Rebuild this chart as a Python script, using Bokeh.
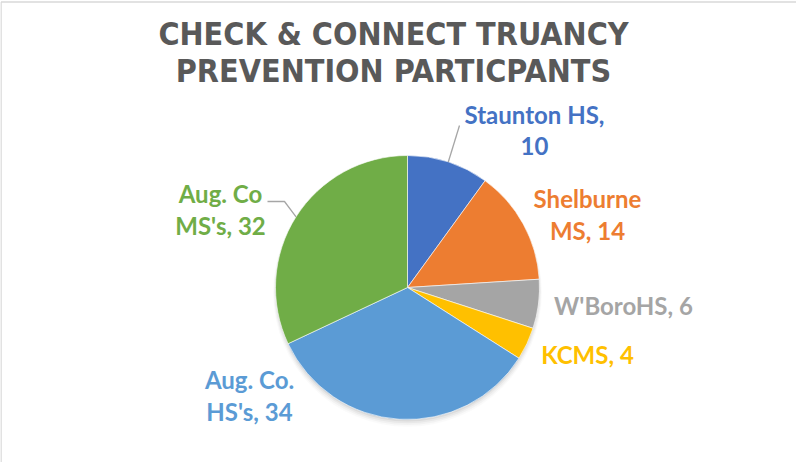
import math
from bokeh.plotting import figure
from bokeh.models import Range1d
from bokeh.core.properties import value
from bokeh.embed import file_html
from bokeh.resources import INLINE

# ---- data ----
title_lines = ["CHECK & CONNECT TRUANCY", "PREVENTION PARTICPANTS"]
schools = ["Staunton HS", "Shelburne MS", "W'BoroHS", "KCMS", "Aug. Co. HS's", "Aug. Co MS's"]
participants = [10, 14, 6, 4, 34, 32]
colors = ["#4472C4", "#ED7D31", "#A5A5A5", "#FFC000", "#5B9BD5", "#70AD47"]

# ---- layout (page pixel coordinates) ----
W, H = 796, 462
PAGE_OFF = 8
CX, CY, R = 415, 295, 132
TITLE_SIZE, LABEL_SIZE = 32, 24
wrap_words = [2, 1, 0, 0, 2, 2]           # words on first label line (0 = single line)
label_pos = [(542, 132), (595, 216), (631, 323), (595, 372), (257, 397), (228, 211)]
LINE_GAP = 32
leader_end = {0: [(467, 133)], 5: [(292, 209), (275, 209)]}


def dy(page_y):
    return PAGE_OFF + H - page_y


p = figure(width=W, height=H, output_backend="svg", toolbar_location=None,
           x_range=Range1d(PAGE_OFF, PAGE_OFF + W), y_range=Range1d(0, H),
           min_border=0, x_axis_type=None, y_axis_type=None)
p.grid.visible = False
p.outline_line_color = None
p.background_fill_color = "white"
p.border_fill_color = "white"

# chart border (top and left visible)
p.line([PAGE_OFF + 0.5, PAGE_OFF + W], [dy(9.5), dy(9.5)], line_color="#D9D9D9", line_width=1.5)
p.line([PAGE_OFF + 0.5, PAGE_OFF + 0.5], [dy(9.5), 0], line_color="#D9D9D9", line_width=1.5)

# title
tfix = 0.42 * TITLE_SIZE
for t, yb in zip(title_lines, [55, 92]):
    p.text(x=[401], y=[dy(yb - tfix)], text=[t], text_font=value("DejaVu Sans Condensed"),
           text_font_style="bold", text_font_size=f"{TITLE_SIZE}px", text_color="#595959",
           text_align="center", text_baseline="alphabetic")

# soft shadow
for k, a in enumerate([0.05, 0.04, 0.03, 0.02]):
    p.circle(x=[CX], y=[dy(CY + 2 + k)], radius=R + k * 0.8, fill_color="black",
             fill_alpha=a, line_color=None)

# wedges
total = sum(participants)
starts, ends = [], []
ang = math.pi / 2
for v in participants:
    starts.append(ang)
    ang -= 2 * math.pi * v / total
    ends.append(ang)
p.wedge(x=CX, y=dy(CY), radius=R, start_angle=starts, end_angle=ends, direction="clock",
        fill_color=colors, line_color="white", line_width=0.6)

# leader lines
for i, pts in leader_end.items():
    mid = (starts[i] + ends[i]) / 2
    ex = CX + R * math.cos(mid)
    ey = CY - R * math.sin(mid)
    xs = [ex] + [q[0] for q in pts]
    ys = [dy(ey)] + [dy(q[1]) for q in pts]
    p.line(xs, ys, line_color="#A6A6A6", line_width=1.3)

# labels
lfix = 0.42 * LABEL_SIZE
for i, (name, v) in enumerate(zip(schools, participants)):
    words = f"{name}, {v}".split(" ")
    if wrap_words[i]:
        lines = [" ".join(words[:wrap_words[i]]), " ".join(words[wrap_words[i]:])]
    else:
        lines = [" ".join(words)]
    lx, ly = label_pos[i]
    for j, ln in enumerate(lines):
        p.text(x=[lx], y=[dy(ly + j * LINE_GAP - lfix)], text=[ln], text_font=value("Lato"),
               text_font_style="bold", text_font_size=f"{LABEL_SIZE}px", text_color=colors[i],
               text_align="center", text_baseline="alphabetic")

open("out.html", "w").write(file_html(p, INLINE))
